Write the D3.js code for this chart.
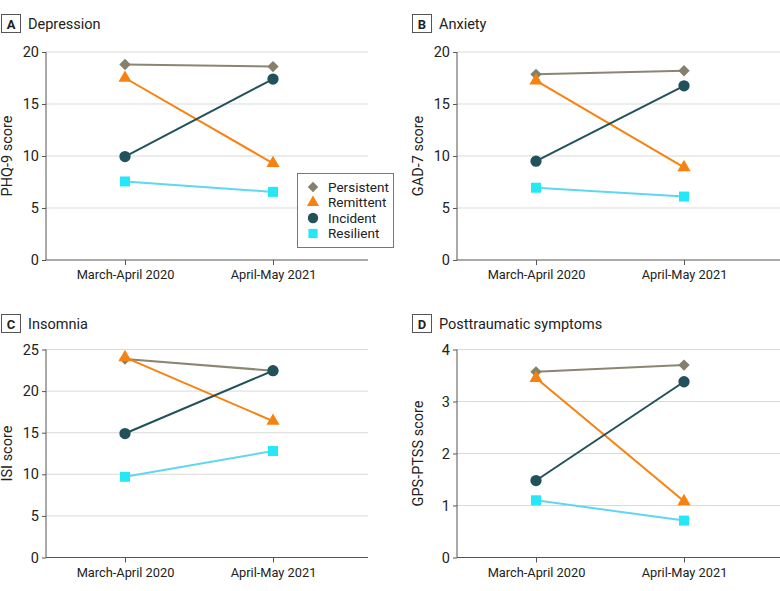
<!DOCTYPE html>
<html><head><meta charset="utf-8">
<script src="https://cdn.jsdelivr.net/npm/d3@7"></script>
<style>body{margin:0;background:#fff}svg{display:block;font-family:Roboto,"Noto Sans",sans-serif}</style>
</head><body>
<svg id="c" width="780" height="591"></svg>
<script>
const timepoints = ["March-April 2020", "April-May 2021"];
const groups = ["Persistent", "Remittent", "Incident", "Resilient"];
const panelLetters = ["A", "B", "C", "D"];
const panelTitles = ["Depression", "Anxiety", "Insomnia", "Posttraumatic symptoms"];
const yTitles = ["PHQ-9 score", "GAD-7 score", "ISI score", "GPS-PTSS score"];
const yMax = [20, 20, 25, 4];
const yTicks = [[0,5,10,15,20],[0,5,10,15,20],[0,5,10,15,20,25],[0,1,2,3,4]];
// values[panel][group] = [2020, 2021]
const depression = [[18.8, 18.6], [17.5, 9.3], [9.95, 17.4], [7.55, 6.55]];
const anxiety    = [[17.85, 18.2], [17.25, 8.9], [9.5, 16.75], [6.95, 6.1]];
const insomnia   = [[23.85, 22.45], [24.05, 16.4], [14.9, 22.45], [9.7, 12.8]];
const ptss       = [[3.57, 3.7], [3.45, 1.08], [1.48, 3.38], [1.1, 0.71]];
const panelData = [depression, anxiety, insomnia, ptss];

const markerColors = ["#857f6b", "#f7820f", "#21525c", "#24e8f8"];
const lineColors = ["#8a8673", "#f7820f", "#21525c", "#5fd6f2"];
const symbols = [d3.symbolSquare, d3.symbolTriangle, d3.symbolCircle, d3.symbolSquare];
const symSizes = [64, 75, 100, 100];
const symRot = [45, 0, 0, 0];

const svg = d3.select("#c");
const origins = [[0,0],[390,0],[0,300],[390,300]];
const axisX = [46, 67, 46, 67];
const plotRight = [368, 390, 368, 390];

panelData.forEach((data, p) => {
  const [ox, oy] = origins[p];
  const g = svg.append("g").attr("transform", `translate(${ox},${oy})`);
  const x0 = axisX[p], x1 = plotRight[p];
  const top = p < 2 ? 52 : 49.5, bottom = p < 2 ? 260 : 257.5;
  const boxX = p % 2 === 0 ? 1 : 22;
  // title
  g.append("rect").attr("x", boxX + 0.5).attr("y", 14.5).attr("width", 19).attr("height", 18)
    .attr("fill", "#fff").attr("stroke", "#555").attr("stroke-width", 1);
  g.append("text").attr("x", boxX + 10).attr("y", 28.5).attr("text-anchor", "middle")
    .attr("font-size", 13).attr("font-weight", "bold").attr("fill", "#222").text(panelLetters[p]);
  g.append("text").attr("x", boxX + 27).attr("y", 29).attr("font-size", 14.5).attr("fill", "#222").text(panelTitles[p]);

  const y = d3.scaleLinear().domain([0, yMax[p]]).range([bottom, top]);
  const xs = d3.scalePoint().domain(timepoints).range([x0 + 79, x0 + 227]);

  // grid
  g.append("g").selectAll("line").data(yTicks[p].filter(t => t > 0)).join("line")
    .attr("x1", x0).attr("x2", x1).attr("y1", d => y(d)).attr("y2", d => y(d))
    .attr("stroke", "#d9d9d9").attr("stroke-width", 1);

  const ya = g.append("g").attr("transform", `translate(${x0},0)`)
    .call(d3.axisLeft(y).tickValues(yTicks[p]).tickFormat(d3.format("d")).tickSize(4).tickPadding(3));
  ya.select(".domain").attr("stroke", "#555").attr("d", `M0,${top}V${bottom}`);
  ya.selectAll(".tick line").attr("stroke", "#555");
  ya.selectAll(".tick text").attr("font-size", 14.5).attr("fill", "#222").attr("font-family", "Roboto,sans-serif");

  const xa = g.append("g").attr("transform", `translate(0,${bottom})`)
    .call(d3.axisBottom(xs).tickSize(5).tickPadding(5));
  xa.select(".domain").attr("stroke", "#555").attr("d", `M${x0},0H${x1}`);
  xa.selectAll(".tick line").attr("stroke", "#555");
  xa.selectAll(".tick text").attr("font-size", 12.8).attr("fill", "#222").attr("font-family", "Roboto,sans-serif");

  g.append("text").attr("transform", `translate(${x0 - 34},${(top + bottom) / 2}) rotate(-90)`)
    .attr("text-anchor", "middle").attr("font-size", 14.5).attr("fill", "#222").text(yTitles[p]);

  const line = d3.line().x((d, i) => xs(timepoints[i])).y(d => y(d));
  data.forEach((vals, k) => {
    g.append("path").attr("d", line(vals)).attr("fill", "none")
      .attr("stroke", lineColors[k]).attr("stroke-width", 2);
  });
  data.forEach((vals, k) => {
    vals.forEach((v, i) => {
      g.append("path").attr("d", d3.symbol().type(symbols[k]).size(symSizes[k])())
        .attr("transform", `translate(${xs(timepoints[i])},${y(v)}) rotate(${symRot[k]})`)
        .attr("fill", markerColors[k]);
    });
  });

  if (p === 0) {
    const lg = g.append("g").attr("transform", "translate(297,173)");
    lg.append("rect").attr("x", 0.5).attr("y", 0.5).attr("width", 96).attr("height", 74)
      .attr("fill", "#fff").attr("stroke", "#777").attr("stroke-width", 1);
    groups.forEach((name, k) => {
      const yy = 14 + k * 15.5;
      lg.append("path").attr("d", d3.symbol().type(symbols[k]).size(symSizes[k] * 0.85)())
        .attr("transform", `translate(16,${yy}) rotate(${symRot[k]})`).attr("fill", markerColors[k]);
      lg.append("text").attr("x", 31).attr("y", yy + 4.5).attr("font-size", 13.5).attr("fill", "#222").text(name);
    });
  }
});
</script>
</body></html>
